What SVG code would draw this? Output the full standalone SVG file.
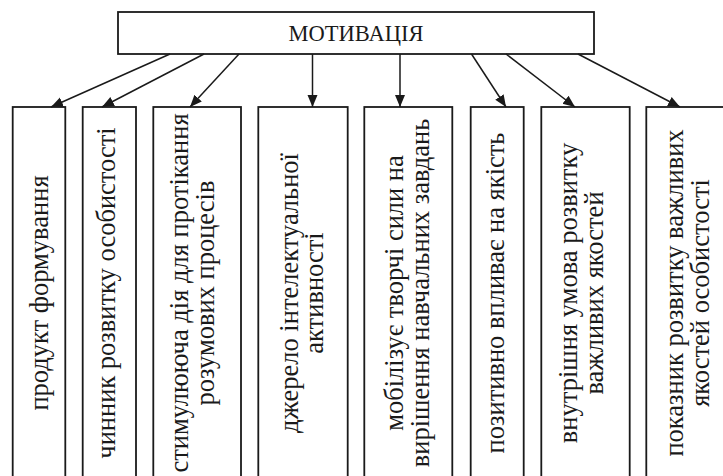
<svg xmlns="http://www.w3.org/2000/svg" width="723" height="476" viewBox="0 0 723 476">
<style>
  .box { fill: #ffffff; stroke: #1a1a1a; stroke-width: 1.8; }
  .title { font-family: "Liberation Serif", "DejaVu Serif", serif; font-size: 22.5px; fill: #1a1a1a; text-anchor: middle; }
  .lbl { font-family: "Liberation Serif", "DejaVu Serif", serif; font-size: 26.5px; fill: #1a1a1a; text-anchor: middle; }
  .conn { stroke: #1a1a1a; stroke-width: 1.5; fill: none; marker-end: url(#arr); }
</style>
<defs>
  <marker id="arr" markerUnits="userSpaceOnUse" markerWidth="13" markerHeight="11" refX="12" refY="5" orient="auto">
    <path d="M0,0 L12,5 L0,10 z" fill="#1a1a1a"/>
  </marker>
</defs>
<rect width="723" height="476" fill="#ffffff"/>
<g id="root">
  <rect class="box" x="118" y="12" width="476" height="42"/>
  <text class="title" x="356" y="41">МОТИВАЦІЯ</text>
</g>
<g id="n1">
  <rect class="box" x="12.7" y="107" width="52.6" height="380"/>
  <text class="lbl" transform="translate(47.5,293) rotate(-90)">продукт формування</text>
</g>
<g id="n2">
  <rect class="box" x="82.7" y="107" width="53.3" height="380"/>
  <text class="lbl" transform="translate(115,293) rotate(-90)">чинник розвитку особистості</text>
</g>
<g id="n3">
  <rect class="box" x="153.3" y="107" width="87.7" height="380"/>
  <text class="lbl" transform="translate(188,293) rotate(-90)">стимулююча дія для протікання</text>
  <text class="lbl" transform="translate(214,293) rotate(-90)">розумових процесів</text>
</g>
<g id="n4">
  <rect class="box" x="258.3" y="107" width="89.4" height="380"/>
  <text class="lbl" transform="translate(298,293) rotate(-90)">джерело інтелектуальної</text>
  <text class="lbl" transform="translate(323,293) rotate(-90)">активності</text>
</g>
<g id="n5">
  <rect class="box" x="364.3" y="107" width="88" height="380"/>
  <text class="lbl" transform="translate(403,293) rotate(-90)">мобілізує творчі сили на</text>
  <text class="lbl" transform="translate(429,293) rotate(-90)">вирішення навчальних завдань</text>
</g>
<g id="n6">
  <rect class="box" x="470.7" y="107" width="53" height="380"/>
  <text class="lbl" transform="translate(504,293) rotate(-90)">позитивно впливає на якість</text>
</g>
<g id="n7">
  <rect class="box" x="541.3" y="107" width="88.4" height="380"/>
  <text class="lbl" transform="translate(577,293) rotate(-90)">внутрішня умова розвитку</text>
  <text class="lbl" transform="translate(603,293) rotate(-90)">важливих якостей</text>
</g>
<g id="n8">
  <rect class="box" x="646.3" y="107" width="90" height="380"/>
  <text class="lbl" transform="translate(683,293) rotate(-90)">показник розвитку важливих</text>
  <text class="lbl" transform="translate(709,293) rotate(-90)">якостей особистості</text>
</g>
<g id="connectors">
  <line class="conn" x1="170" y1="54" x2="51" y2="107"/>
  <line class="conn" x1="204" y1="54" x2="102" y2="107"/>
  <line class="conn" x1="239" y1="54" x2="190" y2="107"/>
  <line class="conn" x1="312.5" y1="54" x2="312.5" y2="107"/>
  <line class="conn" x1="400" y1="54" x2="400" y2="107"/>
  <line class="conn" x1="471.5" y1="54" x2="506" y2="107"/>
  <line class="conn" x1="506" y1="54" x2="575" y2="107"/>
  <line class="conn" x1="578" y1="54" x2="680" y2="107"/>
</g>
</svg>
